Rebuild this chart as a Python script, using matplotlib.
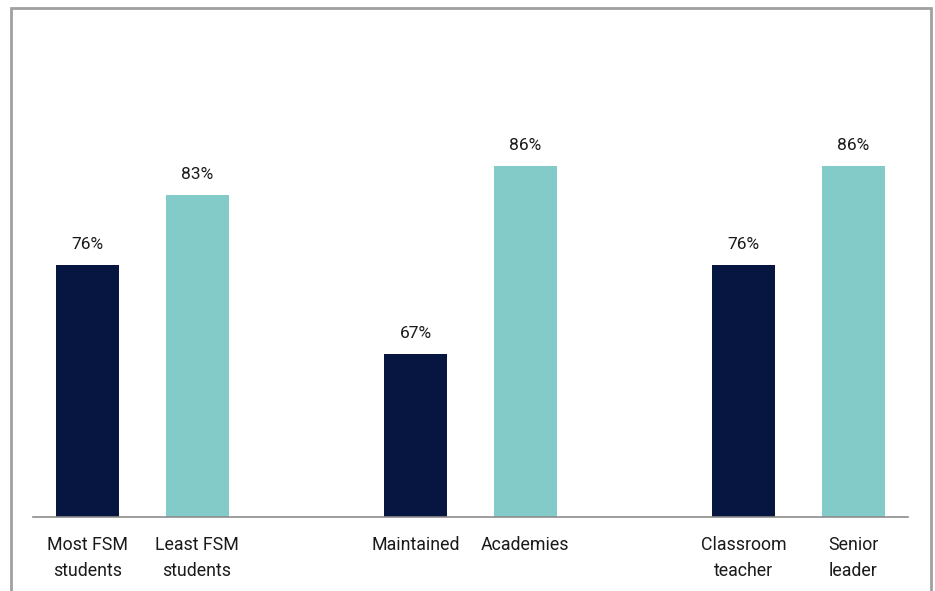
import matplotlib
matplotlib.use("Agg")
import matplotlib.pyplot as plt
from matplotlib.patches import Rectangle

categories = ["Most FSM\nstudents", "Least FSM\nstudents",
              "Maintained", "Academies",
              "Classroom\nteacher", "Senior\nleader"]
values = [76, 83, 67, 86, 76, 86]
positions = [0, 1, 3, 4, 6, 7]
colors = ["#071641", "#83CBC8", "#071641", "#83CBC8", "#071641", "#83CBC8"]

plt.rcParams["font.family"] = ["Roboto", "DejaVu Sans"]

W, H = 935, 591
fig = plt.figure(figsize=(W / 100, H / 100), dpi=100)

# light frame around the chart
fig.patches.append(Rectangle((10.5 / W, -0.05), 920 / W, 1.05 - 8 / H,
                             transform=fig.transFigure, fill=False,
                             edgecolor="#a0a0a0", linewidth=2))

ax = fig.add_axes([33 / W, (H - 517) / H, 875 / W, (517 - 40) / H])
ax.bar(positions, values, width=0.575, color=colors, bottom=0)
ax.set_xlim(-0.5, 7.5)
ymin = 50.5
ax.set_ylim(ymin, ymin + (517 - 40) / 9.9)

for x, v in zip(positions, values):
    ax.text(x, v + 1.3, f"{v}%", ha="center", va="bottom", fontsize=12.5,
            color="#1a1a1a")

ax.set_xticks(positions)
ax.set_xticklabels(categories, fontsize=12.8, color="#1a1a1a", linespacing=1.55)
ax.tick_params(axis="x", length=0, pad=14)
ax.set_yticks([])
for s in ("left", "right", "top"):
    ax.spines[s].set_visible(False)
ax.spines["bottom"].set_color("#8c8c8c")
ax.spines["bottom"].set_linewidth(1.2)

fig.savefig("out.png", dpi=100)
